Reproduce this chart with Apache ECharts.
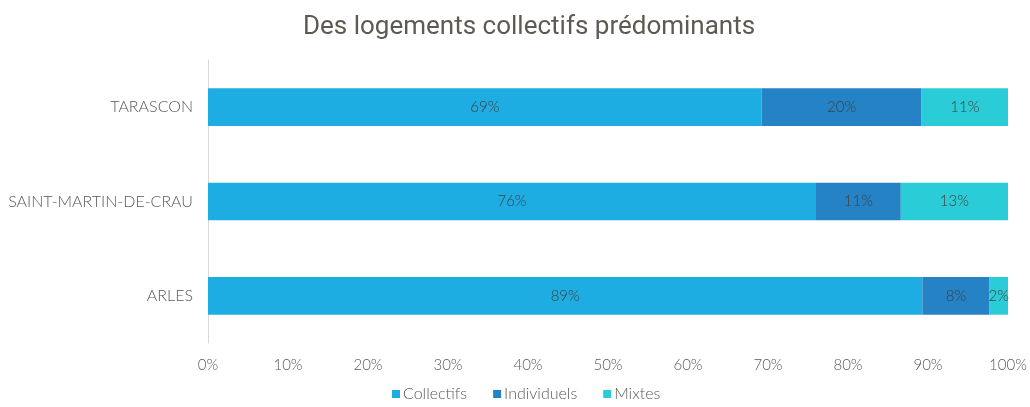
<!DOCTYPE html>
<html>
<head>
<meta charset="utf-8">
<script src="https://cdn.jsdelivr.net/npm/echarts@6/dist/echarts.min.js"></script>
<style>
  html, body { margin: 0; padding: 0; background: #ffffff; }
  #chart { width: 1030px; height: 407px; }
</style>
</head>
<body>
<div id="chart"></div>
<script>
// Communes, listed bottom to top on the category axis
const communes = ['ARLES', 'SAINT-MARTIN-DE-CRAU', 'TARASCON'];

// Share of dwellings by type (%)
const collectifs  = [89.3, 76.0, 69.2];
const individuels = [8.4, 10.6, 20.0];
const mixtes      = [2.3, 13.4, 10.8];

const seriesNames = ['Collectifs', 'Individuels', 'Mixtes'];
const xTicks = [0, 10, 20, 30, 40, 50, 60, 70, 80, 90, 100];

const colors = ['#1eade3', '#2582c5', '#29ccd7'];
const textColor = '#595959';
const labelFont = 'Lato, "Open Sans", sans-serif';

const chart = echarts.init(document.getElementById('chart'), null, { renderer: 'canvas' });

function makeSeries(name, data, color) {
  return {
    name: name,
    type: 'bar',
    stack: 'total',
    data: data,
    barWidth: '40%',
    itemStyle: { color: color },
    label: {
      show: true,
      position: 'inside',
      formatter: p => Math.round(p.value) + '%',
      color: '#404040',
      fontFamily: labelFont,
      fontSize: 15,
      fontWeight: 300
    },
    emphasis: { disabled: true }
  };
}

chart.setOption({
  animation: false,
  title: {
    text: 'Des logements collectifs prédominants',
    left: 298,
    top: 9,
    textStyle: {
      fontFamily: 'Roboto, sans-serif',
      fontWeight: 400,
      fontSize: 26,
      color: '#5e5a52'
    }
  },
  grid: { left: 208, right: 22, top: 60, bottom: 64, containLabel: false },
  legend: {
    data: seriesNames,
    bottom: 0,
    left: 387,
    itemWidth: 8,
    itemHeight: 8,
    itemGap: 26,
    icon: 'rect',
    textStyle: { fontFamily: labelFont, fontSize: 16, fontWeight: 300, color: textColor, padding: [0, 0, 0, -2] }
  },
  xAxis: {
    type: 'value',
    min: xTicks[0],
    max: xTicks[xTicks.length - 1],
    interval: 10,
    axisLabel: {
      formatter: v => v + '%',
      fontFamily: labelFont,
      fontSize: 15,
      fontWeight: 300,
      color: textColor,
      margin: 15
    },
    axisLine: { show: false },
    axisTick: { show: false },
    splitLine: { show: false }
  },
  yAxis: {
    type: 'category',
    data: communes,
    axisLine: { show: true, lineStyle: { color: '#d9d9d9', width: 1 } },
    axisTick: { show: false },
    axisLabel: {
      fontFamily: labelFont,
      fontSize: 16,
      fontWeight: 300,
      color: textColor,
      margin: 15
    }
  },
  series: [
    makeSeries(seriesNames[0], collectifs, colors[0]),
    makeSeries(seriesNames[1], individuels, colors[1]),
    makeSeries(seriesNames[2], mixtes, colors[2])
  ]
});
</script>
</body>
</html>
